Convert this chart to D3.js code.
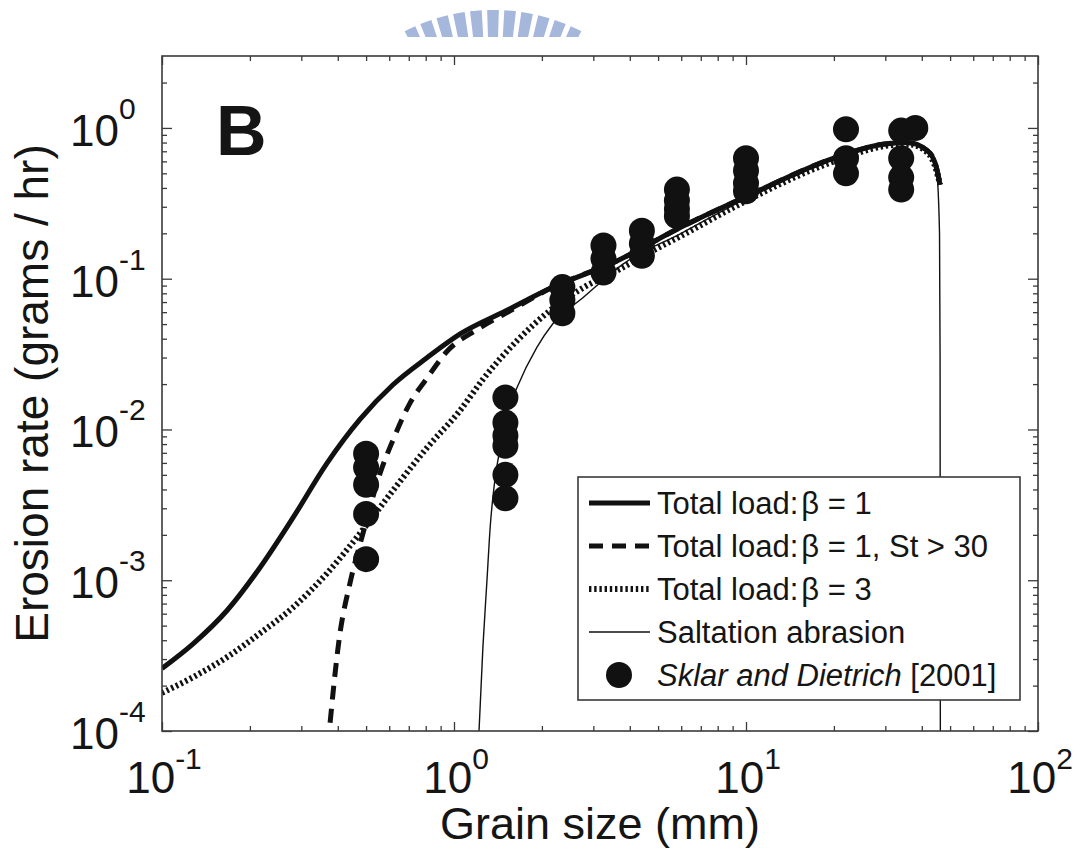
<!DOCTYPE html>
<html><head><meta charset="utf-8">
<script src="https://cdn.jsdelivr.net/npm/d3@7"></script>
<style>
body{margin:0;background:#fff}
svg{display:block}
text{font-family:"Liberation Sans",Arial,Helvetica,sans-serif;fill:#151515}
</style>
</head><body>
<svg id="chart" width="1085" height="848"></svg>
<script>
// ---------- data ----------
const xTickExp = [-1, 0, 1, 2];
const yTickExp = [-4, -3, -2, -1, 0];

// Total load, beta = 1
const solidGrain = [0.1, 0.128, 0.167, 0.217, 0.281, 0.367, 0.477, 0.618, 0.81, 1.05, 1.5, 2.13, 3.61, 6.0, 10, 20, 29.4, 35.6, 41.7, 44.5, 46.2];
const solidRate  = [2.6e-4, 3.8e-4, 6.3e-4, 1.22e-3, 2.6e-3, 5.96e-3, 0.0117, 0.0198, 0.030, 0.043, 0.061, 0.086, 0.131, 0.22, 0.35, 0.63, 0.78, 0.80, 0.71, 0.58, 0.42];

// Total load, beta = 1, St > 30
const dashGrain = [0.37, 0.407, 0.44, 0.488, 0.558, 0.618, 0.706, 0.81, 0.947, 1.2, 1.6, 2.13, 3.61, 6.0, 10, 20, 29.4, 35.6, 41.7, 44.5, 46.2];
const dashRate  = [8e-5, 4.46e-4, 9.5e-4, 2.05e-3, 5.1e-3, 8.5e-3, 0.0149, 0.022, 0.033, 0.046, 0.063, 0.086, 0.131, 0.22, 0.35, 0.63, 0.78, 0.80, 0.71, 0.58, 0.42];

// Total load, beta = 3
const dotGrain = [0.1, 0.128, 0.167, 0.217, 0.281, 0.367, 0.477, 0.618, 0.81, 1.05, 1.256, 1.644, 2.13, 2.77, 3.61, 4.69, 6.08, 9.0, 20, 30, 36, 42, 44.5, 46.2];
const dotRate  = [1.79e-4, 2.28e-4, 3.09e-4, 4.46e-4, 6.6e-4, 1.11e-3, 2.05e-3, 3.94e-3, 7.6e-3, 0.0134, 0.0215, 0.0388, 0.0614, 0.0871, 0.113, 0.15, 0.195, 0.295, 0.60, 0.76, 0.78, 0.68, 0.55, 0.42];

// Saltation abrasion
const saltGrain = [1.215, 1.256, 1.297, 1.33, 1.38, 1.44, 1.52, 1.644, 1.92, 2.18, 2.77, 3.79, 6.0, 10, 20, 30, 36, 42, 45, 46, 46.2, 46.3];
const saltRate  = [9e-5, 3.6e-4, 1e-3, 2.24e-3, 4.6e-3, 7.6e-3, 0.0128, 0.019, 0.0349, 0.0503, 0.075, 0.125, 0.20, 0.34, 0.62, 0.78, 0.80, 0.71, 0.50, 0.20, 0.03, 8e-5];

// Sklar and Dietrich [2001] measurements
const sklarGrain = [0.5, 0.5, 0.5, 0.5, 0.5,
  1.5, 1.5, 1.5, 1.5, 1.5, 1.5,
  2.35, 2.35, 2.35,
  3.25, 3.25, 3.25,
  4.4, 4.4, 4.4,
  5.8, 5.8, 5.8, 5.8,
  10, 10, 10, 10,
  22, 22, 22,
  34, 34, 34, 34, 38];
const sklarRate = [6.9e-3, 5.6e-3, 4.3e-3, 2.75e-3, 1.38e-3,
  0.0163, 0.0111, 0.0091, 0.0078, 0.0050, 0.0035,
  0.088, 0.072, 0.059,
  0.166, 0.136, 0.110,
  0.208, 0.171, 0.142,
  0.39, 0.33, 0.29, 0.26,
  0.63, 0.52, 0.43, 0.38,
  0.98, 0.63, 0.50,
  0.96, 0.63, 0.47, 0.39, 1.0];

const legendLabels = ["Total load:", "Total load:", "Total load:", "Saltation abrasion", "Sklar and Dietrich"];
const legendExtra  = ["\u03b2 = 1", "\u03b2 = 1, St > 30", "\u03b2 = 3", "", " [2001]"];

// ---------- layout ----------
const svg = d3.select("#chart");
const L = 162, R = 1038, T = 56, B = 731;
const x = d3.scaleLog().domain([0.1, 100]).range([L, R]);
const y = d3.scaleLog().domain([1e-4, 3]).range([B, T]);
const ink = "#111";
const frame = "#3a3a3a";

// watermark (partial logo at top)
const wm = svg.append("g");
svg.append("clipPath").attr("id", "wmclip").append("rect").attr("x", 380).attr("y", 0).attr("width", 230).attr("height", 37);
const arc = d3.arc().innerRadius(140).outerRadius(195);
const wmG = wm.append("g").attr("clip-path", "url(#wmclip)").append("g").attr("transform", "translate(493,205)");
d3.range(-5, 6).forEach(i => {
  const c = i * 0.088;
  wmG.append("path").attr("d", arc({startAngle: c - 0.03, endAngle: c + 0.03})).attr("fill", "#a6b7dc");
});

// clip for plot
svg.append("clipPath").attr("id", "plotclip").append("rect").attr("x", L).attr("y", T).attr("width", R - L).attr("height", B - T);

// ticks
function minors(lo, hi) {
  const out = [];
  for (let e = Math.floor(Math.log10(lo)); e <= Math.ceil(Math.log10(hi)); e++) {
    for (let k = 2; k <= 9; k++) { const v = k * Math.pow(10, e); if (v > lo && v < hi * 0.999) out.push(v); }
  }
  return out;
}
const xMaj = xTickExp.map(e => Math.pow(10, e));
const yMaj = yTickExp.map(e => Math.pow(10, e));
const xMin = minors(0.1, 100);
const yMin = minors(1e-4, 3);

function addAxis(gen, vals, size, tr) {
  const g = svg.append("g").attr("transform", tr)
    .call(gen.tickValues(vals).tickSize(-size).tickFormat(""));
  g.select(".domain").remove();
  g.selectAll("line").attr("stroke", frame).attr("stroke-width", 1.3);
}
addAxis(d3.axisBottom(x), xMaj, 9, `translate(0,${B})`);
addAxis(d3.axisBottom(x), xMin, 5, `translate(0,${B})`);
addAxis(d3.axisTop(x), xMaj, 9, `translate(0,${T})`);
addAxis(d3.axisTop(x), xMin, 5, `translate(0,${T})`);
addAxis(d3.axisLeft(y), yMaj, 10, `translate(${L},0)`);
addAxis(d3.axisLeft(y), yMin, 5, `translate(${L},0)`);
addAxis(d3.axisRight(y), yMaj, 10, `translate(${R},0)`);
addAxis(d3.axisRight(y), yMin, 5, `translate(${R},0)`);

// tick labels
xTickExp.forEach(e => {
  const t = svg.append("text").attr("x", x(Math.pow(10, e)) + 2).attr("y", 793)
    .attr("text-anchor", "middle").attr("font-size", 44);
  t.append("tspan").text("10");
  t.append("tspan").attr("dy", -24).attr("font-size", 30).text(e < 0 ? "-" + (-e) : String(e));
});
yTickExp.forEach(e => {
  const t = svg.append("text").attr("x", 70).attr("y", y(Math.pow(10, e)) + 18)
    .attr("font-size", 44);
  t.append("tspan").text("10");
  t.append("tspan").attr("dy", -27).attr("font-size", 30).text(e < 0 ? "-" + (-e) : String(e));
});

// axis titles
svg.append("text").attr("x", (L + R) / 2).attr("y", 839).attr("text-anchor", "middle")
  .attr("font-size", 45).text("Grain size (mm)");
svg.append("text").attr("transform", `translate(48,${(T + B) / 2}) rotate(-90)`).attr("text-anchor", "middle")
  .attr("font-size", 46).text("Erosion rate (grams / hr)");

// panel letter
svg.append("text").attr("x", 216).attr("y", 155).attr("font-size", 70).attr("font-weight", "bold").text("B");

// curves
const line = d3.line().x(d => x(d[0])).y(d => y(d[1])).curve(d3.curveMonotoneX);
const zip = (a, b) => a.map((v, i) => [v, b[i]]);
const plot = svg.append("g").attr("clip-path", "url(#plotclip)");

const styles = {
  dot:  {w: 6, dash: "2.4,2.8"},
  solid:{w: 5, dash: null},
  dash: {w: 5, dash: "14,9"},
  salt: {w: 1.4, dash: null}
};
function drawLine(data, s) {
  const p = plot.append("path").attr("d", line(data)).attr("fill", "none")
    .attr("stroke", ink).attr("stroke-width", s.w).attr("stroke-linejoin", "round");
  if (s.dash) p.attr("stroke-dasharray", s.dash);
}
drawLine(zip(dotGrain, dotRate), styles.dot);
drawLine(zip(solidGrain, solidRate), styles.solid);
drawLine(zip(dashGrain, dashRate), styles.dash);
drawLine(zip(saltGrain, saltRate), styles.salt);

plot.selectAll("circle.sd").data(zip(sklarGrain, sklarRate)).enter().append("circle")
  .attr("class", "sd").attr("cx", d => x(d[0])).attr("cy", d => y(d[1])).attr("r", 13).attr("fill", ink);

// frame
svg.append("rect").attr("x", L).attr("y", T).attr("width", R - L).attr("height", B - T)
  .attr("fill", "none").attr("stroke", frame).attr("stroke-width", 1.6);

// legend
const lg = svg.append("g");
lg.append("rect").attr("x", 578).attr("y", 477).attr("width", 442).attr("height", 223)
  .attr("fill", "#fff").attr("stroke", frame).attr("stroke-width", 1.6);
const legStyles = [styles.solid, styles.dash, styles.dot, styles.salt, null];
legendLabels.forEach((lab, i) => {
  const cy = 503 + i * 43;
  const s = legStyles[i];
  if (s) {
    const p = lg.append("line").attr("x1", 589).attr("x2", 650).attr("y1", cy).attr("y2", cy)
      .attr("stroke", ink).attr("stroke-width", s.w);
    if (s.dash) p.attr("stroke-dasharray", s.dash);
  } else {
    lg.append("circle").attr("cx", 619).attr("cy", cy).attr("r", 13).attr("fill", ink);
  }
  const t = lg.append("text").attr("x", 657).attr("y", cy + 11).attr("font-size", 31);
  if (i === 4) {
    t.append("tspan").attr("font-style", "italic").text(lab);
    t.append("tspan").text(legendExtra[i]);
  } else {
    t.append("tspan").text(lab);
    if (legendExtra[i]) t.append("tspan").attr("dx", 3).text(legendExtra[i]);
  }
});
</script>
</body></html>
